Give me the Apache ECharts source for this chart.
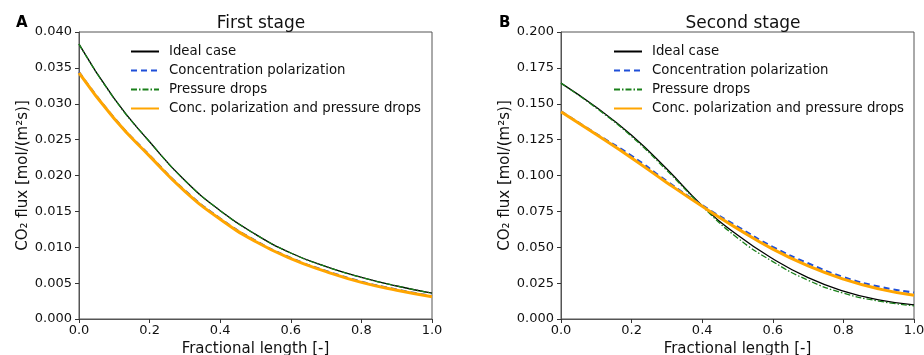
<!DOCTYPE html>
<html>
<head>
<meta charset="utf-8">
<script src="https://cdn.jsdelivr.net/npm/echarts@6/dist/echarts.min.js"></script>
<style>
  html, body { margin: 0; padding: 0; background: #fff; }
  #chart { width: 924px; height: 355px; }
</style>
</head>
<body>
<div id="chart"></div>
<script>
// fractional length positions
const xs = [0, 0.1, 0.2, 0.3, 0.4, 0.5, 0.6, 0.7, 0.8, 0.9, 1.0]

const seriesNames = ['Ideal case', 'Concentration polarization', 'Pressure drops', 'Conc. polarization and pressure drops']

// first stage flux
const s1Ideal = [0.0383, 0.0307, 0.0247, 0.0193, 0.0151, 0.0118, 0.0092, 0.0073, 0.0058, 0.0046, 0.0036]
const s1Conc = [0.0344, 0.0280, 0.0228, 0.0179, 0.0140, 0.0109, 0.0085, 0.0067, 0.0052, 0.0041, 0.0032]
const s1Press = [0.0383, 0.0307, 0.0247, 0.0193, 0.0151, 0.0118, 0.0092, 0.0073, 0.0058, 0.0046, 0.0036]
const s1Both = [0.0343, 0.0279, 0.0227, 0.0178, 0.0139, 0.0108, 0.0084, 0.0066, 0.0051, 0.0040, 0.0031]

// second stage flux
const s2Ideal = [0.1644, 0.1475, 0.1280, 0.1045, 0.0790, 0.0585, 0.0420, 0.0288, 0.0195, 0.0133, 0.0098]
const s2Conc = [0.1447, 0.1290, 0.1137, 0.0960, 0.0792, 0.0644, 0.0502, 0.0388, 0.0292, 0.0226, 0.0184]
const s2Press = [0.1644, 0.1470, 0.1272, 0.1035, 0.0785, 0.0565, 0.0400, 0.0270, 0.0180, 0.0125, 0.0092]
const s2Both = [0.1445, 0.1285, 0.1122, 0.0950, 0.0785, 0.0630, 0.0487, 0.0370, 0.0278, 0.0210, 0.0165]

const FONT = 'DejaVu Sans'
const AXIS_COLOR = '#555'

const pair = arr => xs.map((x, i) => [x, arr[i]])

const styles = [
  { color: '#000000', width: 1.3, type: 'solid' },
  { color: '#1f4fd8', width: 2.2, type: [6, 4] },
  { color: '#1a801a', width: 1.3, type: [6, 2, 1.5, 2] },
  { color: '#ffa500', width: 3, type: 'solid' }
]

const makeSeries = (idx, datasets) => datasets.map((d, i) => ({
  name: seriesNames[i],
  type: 'line',
  xAxisIndex: idx,
  yAxisIndex: idx,
  data: pair(d),
  smooth: true,
  symbol: 'none',
  z: 2 + i,
  lineStyle: { color: styles[i].color, width: styles[i].width, type: styles[i].type },
  itemStyle: { color: styles[i].color }
}))

const xAxisCfg = gridIndex => ({
  type: 'value',
  gridIndex,
  min: 0,
  max: 1,
  interval: 0.2,
  name: 'Fractional length [-]',
  nameLocation: 'middle',
  nameGap: 22,
  nameTextStyle: { fontFamily: FONT, fontSize: 15, color: '#111' },
  axisLine: { onZero: false, lineStyle: { color: AXIS_COLOR, width: 1 } },
  axisTick: { show: true, length: 4, lineStyle: { color: '#333' } },
  axisLabel: { fontFamily: FONT, fontSize: 13, color: '#111', margin: 5, formatter: v => v.toFixed(1) },
  splitLine: { show: false }
})

const yAxisCfg = (gridIndex, max, interval) => ({
  type: 'value',
  gridIndex,
  min: 0,
  max,
  interval,
  name: 'CO₂ flux [mol/(m²s)]',
  nameLocation: 'middle',
  nameGap: 48,
  nameTextStyle: { fontFamily: FONT, fontSize: 15, color: '#111' },
  axisLine: { show: true, onZero: false, lineStyle: { color: AXIS_COLOR, width: 1 } },
  axisTick: { show: true, length: 4, lineStyle: { color: '#333' } },
  axisLabel: { fontFamily: FONT, fontSize: 13, color: '#111', margin: 7, formatter: v => v.toFixed(3) },
  splitLine: { show: false }
})

const legendCfg = left => ({
  orient: 'vertical',
  left,
  top: 40,
  itemWidth: 28,
  itemHeight: 12,
  itemGap: 6,
  data: seriesNames,
  selectedMode: false,
  itemStyle: { opacity: 0 },
  textStyle: { fontFamily: FONT, fontSize: 13.3, color: '#111', padding: [0, 0, 0, 5] }
})

const chart = echarts.init(document.getElementById('chart'))

chart.setOption({
  backgroundColor: '#fff',
  animation: false,
  title: [
    { text: 'First stage', left: 256, top: 10, textAlign: 'center', textStyle: { fontFamily: FONT, fontSize: 17, fontWeight: 'normal', color: '#111' } },
    { text: 'Second stage', left: 738, top: 10, textAlign: 'center', textStyle: { fontFamily: FONT, fontSize: 17, fontWeight: 'normal', color: '#111' } },
    { text: 'A', left: 11, top: 11, textStyle: { fontFamily: FONT, fontSize: 15, fontWeight: 'bold', color: '#000' } },
    { text: 'B', left: 494, top: 11, textStyle: { fontFamily: FONT, fontSize: 15, fontWeight: 'bold', color: '#000' } }
  ],
  legend: [legendCfg(125), legendCfg(608)],
  grid: [
    { left: 79, top: 32, width: 353, height: 287, show: true, borderColor: AXIS_COLOR, borderWidth: 1, outerBoundsMode: 'none' },
    { left: 561, top: 32, width: 353, height: 287, show: true, borderColor: AXIS_COLOR, borderWidth: 1, outerBoundsMode: 'none' }
  ],
  xAxis: [xAxisCfg(0), xAxisCfg(1)],
  yAxis: [yAxisCfg(0, 0.04, 0.005), yAxisCfg(1, 0.2, 0.025)],
  series: [
    ...makeSeries(0, [s1Ideal, s1Conc, s1Press, s1Both]),
    ...makeSeries(1, [s2Ideal, s2Conc, s2Press, s2Both])
  ]
})
</script>
</body>
</html>
